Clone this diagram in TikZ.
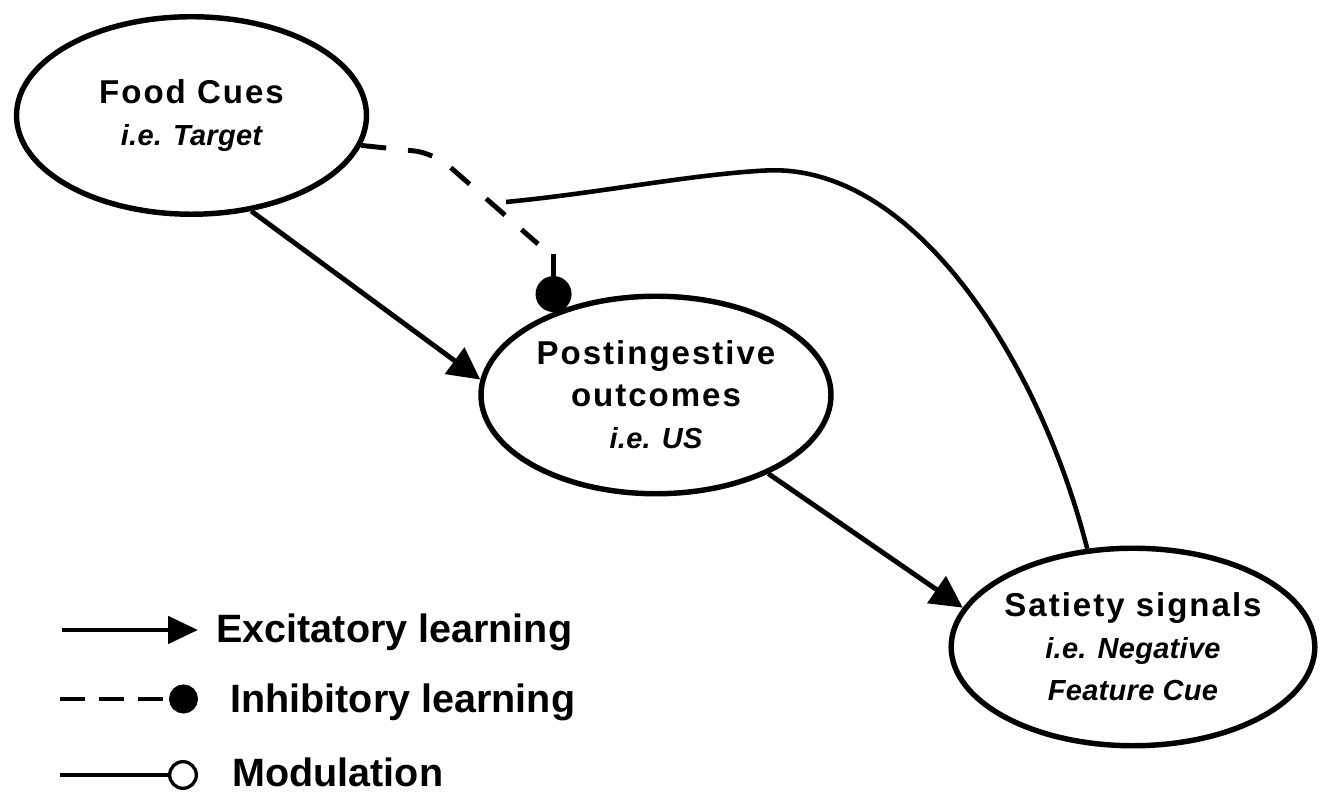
\documentclass[tikz,border=0pt]{standalone}
\usepackage{fontspec}
\setmainfont{Liberation Sans}
\newfontfamily\lblfont{Liberation Sans}[LetterSpace=6]
\newfontfamily\subfont{Liberation Sans}[LetterSpace=1]
\usetikzlibrary{arrows.meta,shapes.geometric,calc}
\tikzset{
  stimulus/.style = {draw, ellipse, line width=3.1pt, inner sep=0pt,
    minimum width=7cm, minimum height=3.95cm, align=center,
    font=\lblfont\bfseries\fontsize{18.8}{23.9}\selectfont},
  excite/.style = {line width=2.8pt, -{Triangle[length=6.4mm,width=6.4mm]}},
  inhibit/.style = {line width=2.8pt, -{Circle[length=7.2mm]}},
  modline/.style = {line width=2.6pt},
  dashline/.style = {line width=2.8pt, dash pattern=on 0.5cm off 0.44cm},
  legtext/.style = {anchor=base west, inner sep=0pt,
    font=\bfseries\fontsize{22.5}{27}\selectfont}
}
\newcommand{\ietext}[1]{{\subfont\bfseries\itshape\fontsize{16.5}{23.9}\selectfont #1}}

\begin{document}
\begin{tikzpicture}
\useasboundingbox (0,0) rectangle (26.46,15.86);

% the three stimuli
\node[stimulus] (food) at (3.83,13.55) {Food Cues\\\ietext{i.e. Target}};
\node[stimulus] (post) at (13.12,7.96) {Postingestive\\outcomes\\\ietext{i.e. US}};
\node[stimulus] (sat) at (22.66,2.92) {Satiety signals\\\ietext{i.e. Negative}\\\ietext{Feature Cue}};

% excitatory links
\draw[excite] (food.-58) -- (post.175);
\draw[excite] (post.-35) -- (sat.167);

% inhibitory link
\coordinate (bend) at (8.68,12.8);
\coordinate (dashend) at (10.76,10.98);
\draw[dashline, rounded corners=0.4cm] (food.-10) -- (bend) -- (dashend);
\coordinate (stub) at ($(post.141)+(0,1.16)$);
\draw[inhibit] (stub) -- (post.141);

% modulation
\coordinate (modend) at (10.12,11.82);
\draw[modline] (sat.115) .. controls (20.8,8.6) and (18.3,12.6) .. (15.32,12.45)
  .. controls (13.8,12.37) and (12.0,12.0) .. (modend);

% legend
\coordinate (exca) at (1.24,3.26);
\coordinate (excb) at (3.96,3.26);
\coordinate (inha) at (1.2,1.88);
\coordinate (inhb) at (3.96,1.88);
\coordinate (moda) at (1.2,0.36);
\coordinate (modb) at (3.96,0.36);
\draw[line width=2.8pt, -{Triangle[length=6mm,width=5.4mm]}] (exca) -- (excb);
\draw[dashline, dash pattern=on 0.5cm off 0.28cm, -{Circle[length=5.8mm]}] (inha) -- (inhb);
\draw[modline, -{Circle[open, fill=white, length=6mm, line width=1.9pt]}] (moda) -- (modb);
\node[legtext] (lexc) at (4.32,3.0) {Excitatory learning};
\node[legtext] (linh) at (4.6,1.6) {Inhibitory learning};
\node[legtext] (lmod) at (4.64,0.12) {Modulation};
\end{tikzpicture}
\end{document}
